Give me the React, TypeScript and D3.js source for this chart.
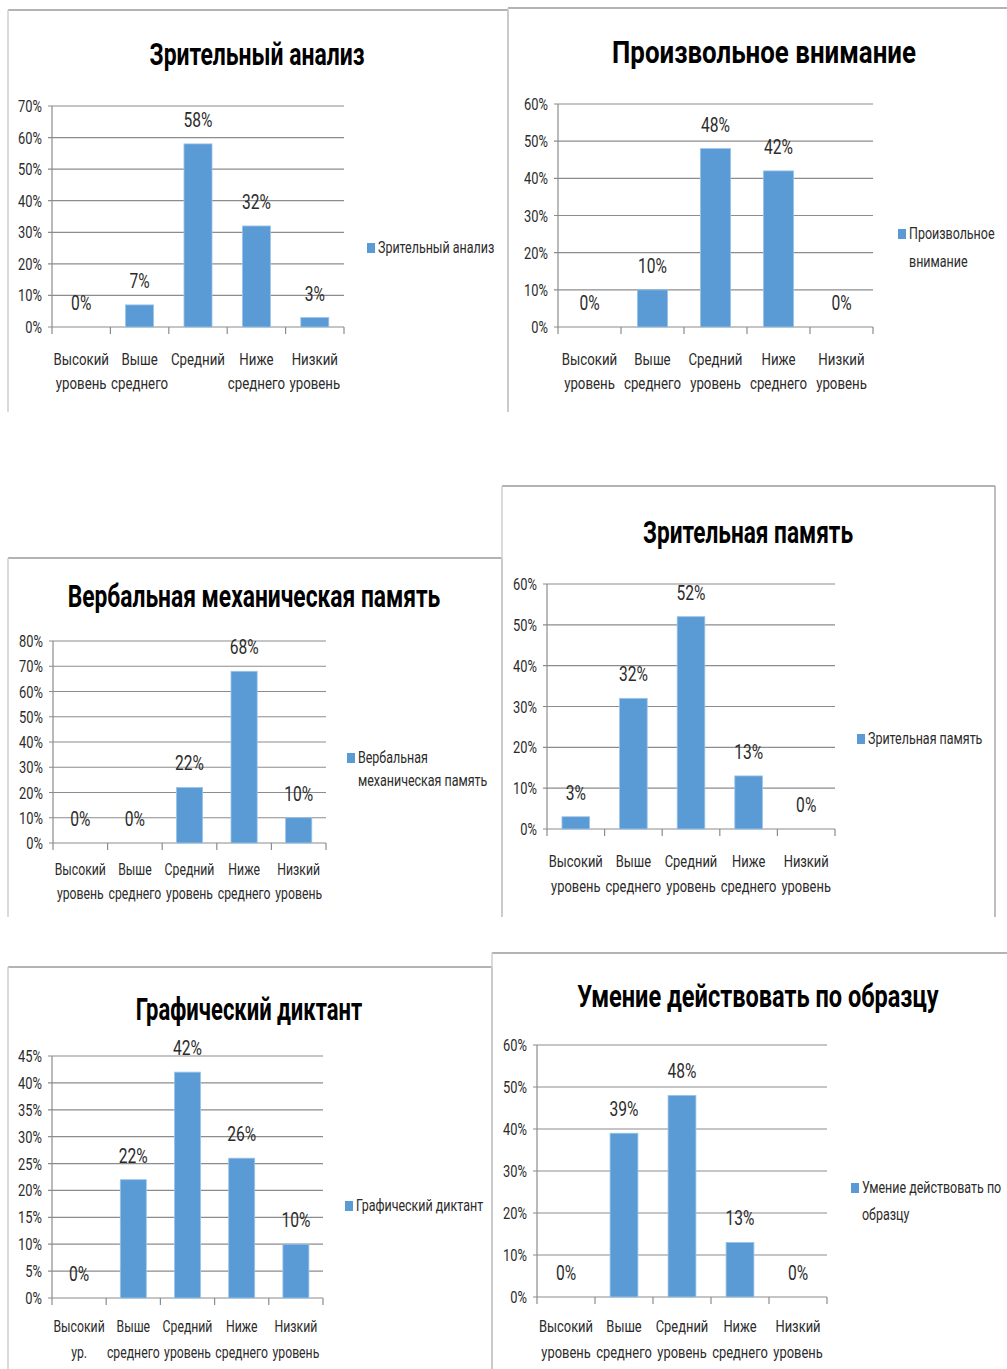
import * as d3 from "d3";
import React from "react";

// категории (по две строки подписи)
const levelLines = [
  ["Высокий", "уровень"],
  ["Выше", "среднего"],
  ["Средний", "уровень"],
  ["Ниже", "среднего"],
  ["Низкий", "уровень"],
];
const levelLinesShort = [
  ["Высокий", "уровень"],
  ["Выше", "среднего"],
  ["Средний", ""],
  ["Ниже", "среднего"],
  ["Низкий", "уровень"],
];
const levelLinesGraphic = [
  ["Высокий", "ур."],
  ["Выше", "среднего"],
  ["Средний", "уровень"],
  ["Ниже", "среднего"],
  ["Низкий", "уровень"],
];

// значения
const visualAnalysis = [0, 0.07, 0.58, 0.32, 0.03];
const voluntaryAttention = [0, 0.1, 0.48, 0.42, 0];
const verbalMemory = [0, 0, 0.22, 0.68, 0.1];
const visualMemory = [0.03, 0.32, 0.52, 0.13, 0];
const graphicDictation = [0, 0.22, 0.42, 0.26, 0.1];
const patternSkill = [0, 0.39, 0.48, 0.13, 0];

// заголовки и легенды
const titles = [
  "Зрительный анализ",
  "Произвольное внимание",
  "Вербальная механическая память",
  "Зрительная память",
  "Графический диктант",
  "Умение действовать по образцу",
];
const legendLines = [
  ["Зрительный анализ"],
  ["Произвольное", "внимание"],
  ["Вербальная", "механическая память"],
  ["Зрительная память"],
  ["Графический диктант"],
  ["Умение действовать по", "образцу"],
];
const yMax = [0.7, 0.6, 0.8, 0.6, 0.45, 0.6];
const yStep = [0.1, 0.1, 0.1, 0.1, 0.05, 0.1];

const series = [visualAnalysis, voluntaryAttention, verbalMemory, visualMemory, graphicDictation, patternSkill];
const catSets = [levelLinesShort, levelLines, levelLines, levelLines, levelLinesGraphic, levelLines];

// layout: box [x0,y0,x1,y1], plot [left, top, right, bottom], title [cx, baseline, x-scale]
const layout = [
  { box: [8, 10, 508, 412], plot: [52, 106, 344, 327], title: [257, 65, 0.74], legend: [367, 243], legendGap: 26, cat: [38, 62], catSx: 0.78 },
  { box: [508, 8, 1010, 412], plot: [558, 104, 873, 327], title: [764, 63, 0.835], legend: [898, 229], legendGap: 28, cat: [38, 62], catSx: 0.78 },
  { box: [8, 558, 502, 917], plot: [53, 641, 326, 843], title: [254, 607, 0.735], legend: [347, 753], legendGap: 23, cat: [32, 56], catSx: 0.72 },
  { box: [502, 486, 995, 917], plot: [547, 584, 835, 829], title: [748, 543, 0.73], legend: [857, 734], legendGap: 26, cat: [38, 63], catSx: 0.76 },
  { box: [8, 967, 492, 1372], plot: [52, 1056, 323, 1298], title: [249, 1020, 0.71], legend: [345, 1201], legendGap: 26, cat: [34, 60], catSx: 0.72 },
  { box: [492, 953, 1010, 1372], plot: [537, 1045, 827, 1297], title: [758, 1007, 0.76], legend: [851, 1183], legendGap: 27, cat: [35, 61], catSx: 0.76 },
];

const FONT = "Roboto, 'DejaVu Sans', sans-serif";
const BAR = "#5b9bd5";
const GRID = "#8c8c8c";
const INK = "#2b2b2b";
const SX = 0.78;

const T = ({ x, y, size, anchor = "middle", sx = SX, bold = false, children }: any) => (
  <text
    transform={`translate(${x},${y}) scale(${sx},1)`}
    textAnchor={anchor}
    fontFamily={FONT}
    fontSize={size}
    fontWeight={bold ? 700 : 400}
    fill={bold ? "#000" : INK}
  >
    {children}
  </text>
);

const pct = d3.format(".0%");

const Chart = ({ i }: { i: number }) => {
  const L = layout[i];
  const [bx0, by0, bx1, by1] = L.box;
  const [left, top, right, bottom] = L.plot;
  const values = series[i];
  const cats = catSets[i];
  const x = d3
    .scaleBand<number>()
    .domain(d3.range(values.length))
    .range([left, right])
    .paddingInner(0.52)
    .paddingOuter(0.26);
  const y = d3.scaleLinear().domain([0, yMax[i]]).range([bottom, top]);
  const ticks = d3.range(0, yMax[i] + 1e-9, yStep[i]);
  const step = x.step();
  const bounds = d3.range(values.length + 1).map((k) => left + k * step);
  const [lx, ly] = L.legend;
  const [tx, ty, tsx] = L.title;
  return (
    <g>
      <line x1={bx0} x2={bx1} y1={by0} y2={by0} stroke="#9a9a9a" strokeWidth={1.5} />
      <line x1={bx0} x2={bx0} y1={by0} y2={by1} stroke="#cfcfcf" strokeWidth={1.5} />
      <line x1={bx1} x2={bx1} y1={by0} y2={by1} stroke="#a8a8a8" strokeWidth={1.5} />
      <T x={tx} y={ty} size={31} sx={tsx} bold>
        {titles[i]}
      </T>
      {ticks.map((t) => (
        <g key={t}>
          <line x1={left - 4} x2={right} y1={y(t)} y2={y(t)} stroke={GRID} strokeWidth={1.2} />
          <T x={left - 10} y={y(t) + 6} size={16.5} anchor="end">
            {pct(t)}
          </T>
        </g>
      ))}
      <line x1={left} x2={left} y1={top} y2={bottom} stroke={GRID} strokeWidth={1.2} />
      {bounds.map((b, k) => (
        <line key={k} x1={b} x2={b} y1={bottom} y2={bottom + 7} stroke={GRID} strokeWidth={1.2} />
      ))}
      {values.map((v, k) => (
        <rect
          key={k}
          x={x(k)!}
          y={y(v)}
          width={x.bandwidth()}
          height={bottom - y(v)}
          fill={BAR}
          stroke="#9cc5ea"
          strokeWidth={0.8}
        />
      ))}
      {values.map((v, k) => (
        <T key={k} x={x(k)! + x.bandwidth() / 2} y={y(v) - 17} size={20}>
          {pct(v)}
        </T>
      ))}
      {cats.map((lines, k) => (
        <g key={k}>
          <T x={x(k)! + x.bandwidth() / 2} y={bottom + L.cat[0]} size={17} sx={L.catSx}>
            {lines[0]}
          </T>
          <T x={x(k)! + x.bandwidth() / 2} y={bottom + L.cat[1]} size={17} sx={L.catSx}>
            {lines[1]}
          </T>
        </g>
      ))}
      <rect x={lx} y={ly} width={8} height={10} fill={BAR} />
      {legendLines[i].map((s, k) => (
        <T key={k} x={lx + 11} y={ly + 10 + k * L.legendGap} size={16} anchor="start">
          {s}
        </T>
      ))}
    </g>
  );
};

export default function App() {
  return (
    <div style={{ position: "absolute", left: 0, top: 0 }}>
      <svg width={1007} height={1369} style={{ display: "block", background: "#fff" }}>
        {d3.range(6).map((i) => (
          <Chart key={i} i={i} />
        ))}
      </svg>
    </div>
  );
}
